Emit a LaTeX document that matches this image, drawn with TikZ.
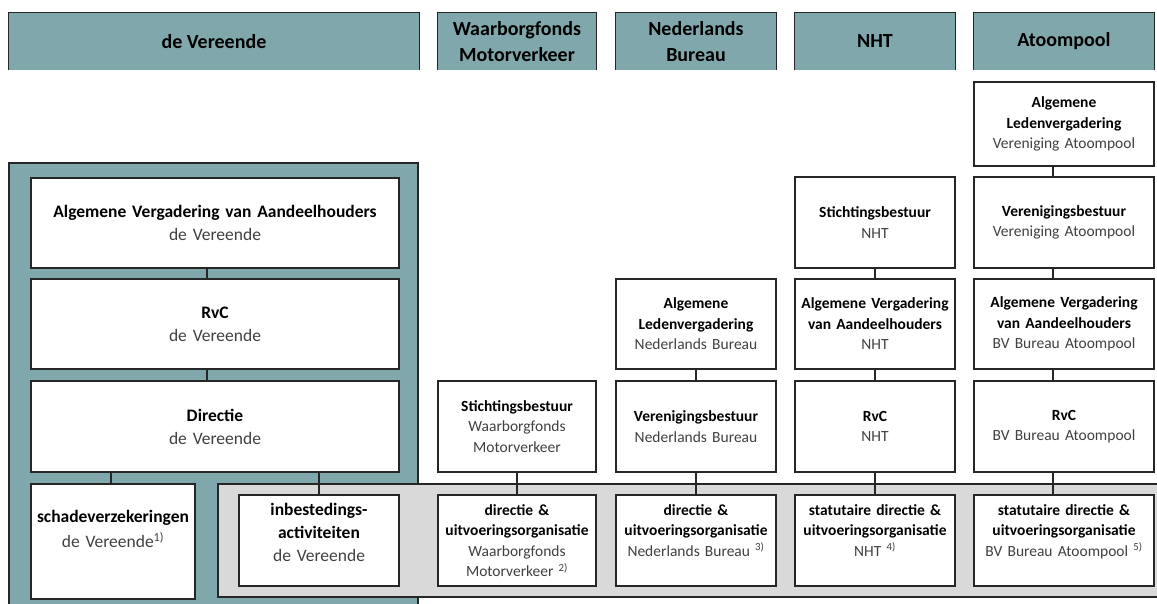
\documentclass[tikz,border=0pt]{standalone}
\usepackage{fontspec}
\setmainfont{Carlito}
\definecolor{tealhd}{RGB}{128,168,172}
\definecolor{grayreg}{RGB}{217,217,217}
\definecolor{edgec}{RGB}{38,38,38}
\definecolor{subtxt}{RGB}{64,64,64}
\newcommand\bt[1]{{\bfseries\color{black}#1}}
\begin{document}
\begin{tikzpicture}[x=1pt,y=-1pt,
  hdr/.style={fill=tealhd, inner sep=0pt, align=center, minimum height=57pt,
    font=\bfseries\fontsize{20}{26}\selectfont, text=black},
  hdredge/.style={draw=edgec, line width=1.2pt},
  orgbox/.style={draw=edgec, line width=1.2pt, fill=white, inner sep=0pt, align=center, text=subtxt},
  rbox/.style={orgbox, font=\fontsize{15.5}{20.5}\selectfont, text width=150pt},
  lbox/.style={orgbox, font=\fontsize{17.5}{23}\selectfont},
  conn/.style={draw=edgec, line width=1.2pt},
  region/.style={draw=edgec, line width=1.2pt}
]
\useasboundingbox (0,0) rectangle (1157,604);

% headers
\node[hdr, minimum width=410pt] (hV) at (214,41.5) {de Vereende};
\node[hdr, minimum width=158pt] (hW) at (517,41.5) {Waarborgfonds\\Motorverkeer};
\node[hdr, minimum width=160pt] (hN) at (696,41.5) {Nederlands\\Bureau};
\node[hdr, minimum width=160pt] (hH) at (875,41.5) {NHT};
\node[hdr, minimum width=180pt] (hA) at (1064,41.5) {Atoompool};
\foreach \h in {hV,hW,hN,hH,hA}{
  \draw[hdredge] (\h.south west) |- (\h.north east) -- (\h.south east);
}

% background regions
\path[region, fill=tealhd] (9,163) rectangle (418,625);
\path[region, fill=grayreg] (218,484) rectangle (1180,597);

% de Vereende
\node[lbox, minimum width=368pt, minimum height=90pt, text width=360pt] (vAVA) at (215,223)
  {\bt{Algemene Vergadering van Aandeelhouders}\\de Vereende};
\node[lbox, minimum width=368pt, minimum height=90pt, text width=360pt] (vRvC) at (215,324)
  {\bt{RvC}\\de Vereende};
\node[lbox, minimum width=368pt, minimum height=91pt, text width=360pt] (vDir) at (215,426.5)
  {\bt{Directie}\\de Vereende};
\node[lbox, minimum width=164pt, minimum height=115pt, text width=162pt] (vSchade) at (113,541.5)
  {\bt{schadeverzekeringen}\\[2pt]de Vereende\textsuperscript{1)}\\[2pt]\mbox{}};
\node[lbox, minimum width=160pt, minimum height=91pt, text width=156pt] (vInb) at (319,540.5)
  {\bt{inbestedings-\\activiteiten}\\de Vereende\\[-6pt]\mbox{}};

% Waarborgfonds
\node[rbox, minimum width=158pt, minimum height=91pt] (wSB) at (517,426.5)
  {\bt{Stichtingsbestuur}\\Waarborgfonds\\Motorverkeer};
\node[rbox, minimum width=158pt, minimum height=91pt] (wDir) at (517,540.5)
  {\bt{directie \&\\uitvoeringsorganisatie}\\Waarborgfonds\\Motorverkeer \textsuperscript{2)}};

% Nederlands Bureau
\node[rbox, minimum width=160pt, minimum height=90pt] (nALV) at (696,324)
  {\bt{Algemene\\Ledenvergadering}\\Nederlands Bureau};
\node[rbox, minimum width=160pt, minimum height=91pt] (nVB) at (696,426.5)
  {\bt{Verenigingsbestuur}\\Nederlands Bureau};
\node[rbox, minimum width=160pt, minimum height=91pt] (nDir) at (696,540.5)
  {\bt{directie \&\\uitvoeringsorganisatie}\\Nederlands Bureau \textsuperscript{3)}\\\mbox{}};

% NHT
\node[rbox, minimum width=160pt, minimum height=91pt] (tSB) at (875,222.5)
  {\bt{Stichtingsbestuur}\\NHT};
\node[rbox, minimum width=160pt, minimum height=90pt] (tAVA) at (875,324)
  {\bt{Algemene Vergadering\\van Aandeelhouders}\\NHT};
\node[rbox, minimum width=160pt, minimum height=91pt] (tRvC) at (875,426.5)
  {\bt{RvC}\\NHT};
\node[rbox, minimum width=160pt, minimum height=91pt] (tDir) at (875,540.5)
  {\bt{statutaire directie \&\\uitvoeringsorganisatie}\\NHT \textsuperscript{4)}\\\mbox{}};

% Atoompool
\node[rbox, minimum width=180pt, minimum height=84pt, text width=170pt] (aALV) at (1064,124)
  {\bt{Algemene\\Ledenvergadering}\\Vereniging Atoompool};
\node[rbox, minimum width=180pt, minimum height=91pt, text width=170pt] (aVB) at (1064,222.5)
  {\bt{Verenigingsbestuur}\\Vereniging Atoompool};
\node[rbox, minimum width=180pt, minimum height=90pt, text width=170pt] (aAVA) at (1064,324)
  {\bt{Algemene Vergadering\\van Aandeelhouders}\\BV Bureau Atoompool};
\node[rbox, minimum width=180pt, minimum height=91pt, text width=170pt] (aRvC) at (1064,426.5)
  {\bt{RvC}\\BV Bureau Atoompool};
\node[rbox, minimum width=180pt, minimum height=91pt, text width=170pt] (aDir) at (1064,540.5)
  {\bt{statutaire directie \&\\uitvoeringsorganisatie}\\BV Bureau Atoompool \textsuperscript{5)}\\\mbox{}};

% connectors
\draw[conn] ([xshift=-8pt]vAVA.south) -- ([xshift=-8pt]vRvC.north);
\draw[conn] ([xshift=-8pt]vRvC.south) -- ([xshift=-8pt]vDir.north);
\draw[conn] ([xshift=-2pt]vSchade.north) -- ([xshift=-2pt]vSchade.north |- vDir.south);
\draw[conn] (vInb.north) -- (vInb.north |- vDir.south);
\draw[conn] (wSB.south) -- (wDir.north);
\draw[conn] (nALV.south) -- (nVB.north);
\draw[conn] (nVB.south) -- (nDir.north);
\draw[conn] (tSB.south) -- (tAVA.north);
\draw[conn] (tAVA.south) -- (tRvC.north);
\draw[conn] (tRvC.south) -- (tDir.north);
\draw[conn] ([xshift=-11pt]aALV.south) -- ([xshift=-11pt]aVB.north);
\draw[conn] ([xshift=-11pt]aVB.south) -- ([xshift=-11pt]aAVA.north);
\draw[conn] ([xshift=-11pt]aAVA.south) -- ([xshift=-11pt]aRvC.north);
\draw[conn] ([xshift=-11pt]aRvC.south) -- ([xshift=-11pt]aDir.north);
\end{tikzpicture}
\end{document}
